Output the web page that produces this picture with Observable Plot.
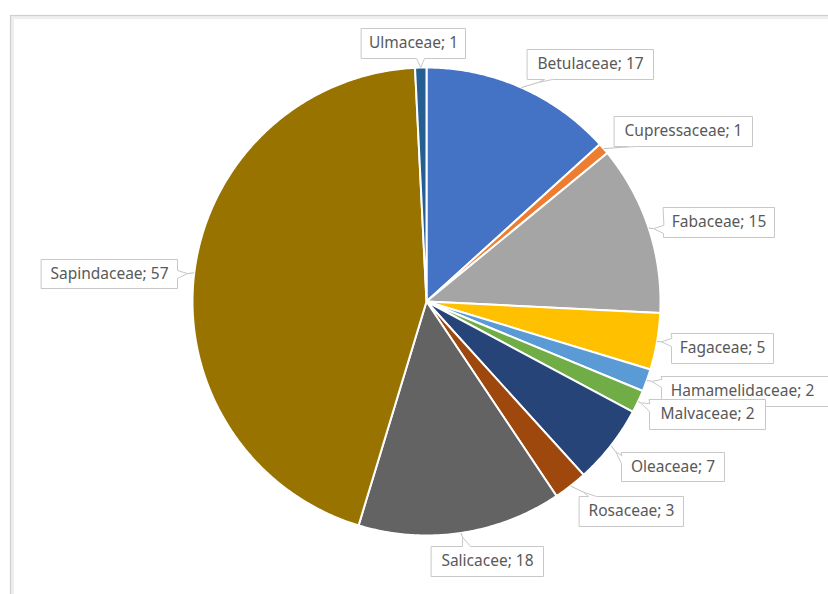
<!DOCTYPE html>
<html>
<head>
<meta charset="utf-8">
<script src="https://cdn.jsdelivr.net/npm/d3@7"></script>
<script src="https://cdn.jsdelivr.net/npm/@observablehq/plot@0.6"></script>
<style>
  html, body { margin: 0; padding: 0; background: #ffffff; }
  #chart svg { display: block; }
</style>
</head>
<body>
<div id="chart"></div>
<script>
// ---- data ----
const families = ["Betulaceae","Cupressaceae","Fabaceae","Fagaceae","Hamamelidaceae","Malvaceae","Oleaceae","Rosaceae","Salicacee","Sapindaceae","Ulmaceae"];
const counts = [17, 1, 15, 5, 2, 2, 7, 3, 18, 57, 1];
const sliceColors = ["#4472C4","#ED7D31","#A5A5A5","#FFC000","#5B9BD5","#70AD47","#264478","#9E480E","#636363","#997300","#255E91"];

// ---- layout (callout boxes, wedge side & position along that side) ----
const calloutLayout = [
  {x1: 527, x2: 653, y1: 49,  y2: 79,  side: "b", at: 548},
  {x1: 614, x2: 752, y1: 116, y2: 146, side: "b", at: 632},
  {x1: 663, x2: 774, y1: 207, y2: 237, side: "l", at: 229},
  {x1: 671, x2: 773, y1: 333, y2: 363, side: "l", at: 342},
  {x1: 661, x2: 832, y1: 376, y2: 406, side: "l", at: 383, tx: 742},
  {x1: 649, x2: 765, y1: 399, y2: 429, side: "l", at: 407},
  {x1: 621, x2: 724, y1: 452, y2: 481, side: "l", at: 459},
  {x1: 579, x2: 683, y1: 496, y2: 526, side: "t", at: 592},
  {x1: 431, x2: 543, y1: 546, y2: 576, side: "t", at: 466},
  {x1: 41,  x2: 177, y1: 259, y2: 288, side: "r", at: 274},
  {x1: 361, x2: 465, y1: 28,  y2: 58,  side: "b", at: 420}
];

const W = 828, H = 594;
const cx = 426, cy = 301, R = 234;

const rows = families.map((name, i) => ({name, value: counts[i], color: sliceColors[i], i}));
const arcs = d3.pie().sort(null).value(d => d.value).startAngle(0).endAngle(2 * Math.PI)(rows);

const pt = (a, r) => [cx + r * Math.sin(a), cy - r * Math.cos(a)];

// slice polygons
const slicePts = [];
for (const a of arcs) {
  const name = a.data.name;
  slicePts.push({name, x: cx, y: cy});
  const n = Math.max(2, Math.ceil((a.endAngle - a.startAngle) / (Math.PI / 360)));
  for (let k = 0; k <= n; k++) {
    const ang = a.startAngle + (a.endAngle - a.startAngle) * k / n;
    const [x, y] = pt(ang, R);
    slicePts.push({name, x, y});
  }
}

// callouts
const calloutPts = [];
const leaders = [];
const labelRows = [];
arcs.forEach((a, i) => {
  const L = calloutLayout[i];
  const mid = (a.startAngle + a.endAngle) / 2;
  const [ax, ay] = pt(mid, R);
  let bx, by;
  if (L.side === "l") { bx = L.x1; by = L.at; }
  else if (L.side === "r") { bx = L.x2; by = L.at; }
  else if (L.side === "t") { bx = L.at; by = L.y1; }
  else { bx = L.at; by = L.y2; }
  const dx = ax - bx, dy = ay - by;
  const dist = Math.hypot(dx, dy);
  const len = Math.min(10, dist);
  const tx = bx + dx / dist * len, ty = by + dy / dist * len;
  const hw = 4;
  const TL = [L.x1, L.y1], TR = [L.x2, L.y1], BR = [L.x2, L.y2], BL = [L.x1, L.y2];
  let poly;
  if (L.side === "t") poly = [TL, [bx - hw, L.y1], [tx, ty], [bx + hw, L.y1], TR, BR, BL];
  else if (L.side === "r") poly = [TL, TR, [L.x2, by - hw], [tx, ty], [L.x2, by + hw], BR, BL];
  else if (L.side === "b") poly = [TL, TR, BR, [bx + hw, L.y2], [tx, ty], [bx - hw, L.y2], BL];
  else poly = [TL, TR, BR, BL, [L.x1, by + hw], [tx, ty], [L.x1, by - hw]];
  poly.forEach(([x, y]) => calloutPts.push({name: a.data.name, x, y}));
  if (dist - len > 1) leaders.push({x1: tx, y1: ty, x2: ax, y2: ay});
  labelRows.push({
    x: L.tx ?? (L.x1 + L.x2) / 2,
    y: (L.y1 + L.y2) / 2,
    text: `${a.data.name}; ${a.data.value}`
  });
});

const font = "'Noto Sans', 'Open Sans', sans-serif";

const chart = Plot.plot({
  width: W,
  height: H,
  margin: 0,
  x: {domain: [0, W], range: [0, W], axis: null},
  y: {domain: [0, H], range: [0, H], axis: null},
  color: {domain: families, range: sliceColors},
  style: {background: "#ffffff", fontFamily: font},
  marks: [
    // outer frame of the chart area (with soft shadow)
    Plot.frame({insetLeft: 12, insetTop: 17, insetRight: -10, insetBottom: -10, stroke: "#eeeeee", strokeWidth: 3}),
    Plot.frame({insetLeft: 10, insetTop: 15, insetRight: -10, insetBottom: -10, stroke: "#cfcfcf", strokeWidth: 1.2}),
    // pie slices
    Plot.line(slicePts, {x: "x", y: "y", z: "name", fill: "name", stroke: "white", strokeWidth: 2, strokeLinejoin: "round", curve: "linear-closed"}),
    // leader lines
    Plot.link(leaders, {x1: "x1", y1: "y1", x2: "x2", y2: "y2", stroke: "#bfbfbf", strokeWidth: 1}),
    // callout boxes
    Plot.line(calloutPts, {x: "x", y: "y", z: "name", fill: "white", stroke: "#c8c8c8", strokeWidth: 1, curve: "linear-closed"}),
    // labels
    Plot.text(labelRows, {x: "x", y: "y", text: "text", fontSize: 15.5, fill: "#595959", textAnchor: "middle", fontFamily: font})
  ]
});

document.getElementById("chart").appendChild(chart);
</script>
</body>
</html>
